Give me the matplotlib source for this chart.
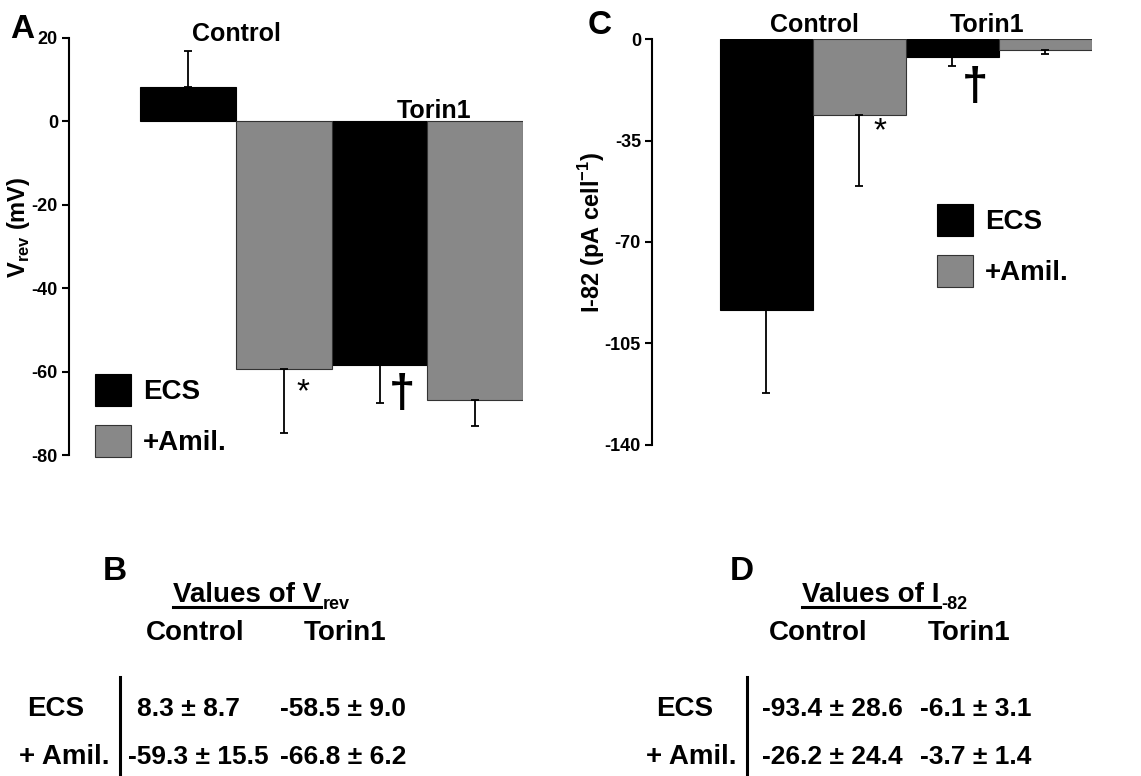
import matplotlib
matplotlib.use("Agg")
import matplotlib.pyplot as plt
from matplotlib.lines import Line2D
import numpy as np

plt.rcParams['font.family'] = ['Liberation Sans', 'DejaVu Sans']
plt.rcParams['font.weight'] = 'bold'
plt.rcParams['axes.unicode_minus'] = False
plt.rcParams['mathtext.fontset'] = 'custom'
plt.rcParams['mathtext.rm'] = 'Liberation Sans:bold'

groups = ['Control', 'Torin1']
conditions = ['ECS', '+Amil.']
row_names = ['ECS', '+ Amil.']

vrev_ecs = [8.3, -58.5]
vrev_ecs_err = [8.7, 9.0]
vrev_amil = [-59.3, -66.8]
vrev_amil_err = [15.5, 6.2]

i82_ecs = [-93.4, -6.1]
i82_ecs_err = [28.6, 3.1]
i82_amil = [-26.2, -3.7]
i82_amil_err = [24.4, 1.4]

vrev_ticks = [20, 0, -20, -40, -60, -80]
i82_ticks = [0, -35, -70, -105, -140]

BLACK = '#000000'
GREY = '#888888'

W, H = 1141, 776
fig = plt.figure(figsize=(W / 100, H / 100), dpi=100)


def fx(x):
    return x / W


def fy(y):
    return 1 - y / H


def one_sided(vals, errs):
    lo = [e if v < 0 else 0 for v, e in zip(vals, errs)]
    hi = [e if v >= 0 else 0 for v, e in zip(vals, errs)]
    return [lo, hi]


def bar_panel(ax, ecs, ecs_err, amil, amil_err, ylim, ticks):
    x_ecs = np.array([0, 2])
    x_amil = np.array([1, 3])
    ax.bar(x_ecs, ecs, width=1.0, color=BLACK, edgecolor=BLACK, linewidth=0.8, label=conditions[0])
    ax.bar(x_amil, amil, width=1.0, color=GREY, edgecolor='#333333', linewidth=0.8, label=conditions[1])
    ax.errorbar(x_ecs, ecs, yerr=one_sided(ecs, ecs_err), fmt='none', ecolor='black',
                elinewidth=1.3, capsize=3, capthick=1.3)
    ax.errorbar(x_amil, amil, yerr=one_sided(amil, amil_err), fmt='none', ecolor='black',
                elinewidth=1.3, capsize=3, capthick=1.3)
    ax.set_ylim(*ylim)
    ax.set_yticks(ticks)
    ax.set_yticklabels([str(t) for t in ticks])
    for s in ['top', 'right', 'bottom']:
        ax.spines[s].set_visible(False)
    ax.spines['left'].set_linewidth(1.5)
    ax.set_xticks([])
    ax.tick_params(axis='y', direction='out', length=5, width=1.5, pad=3, labelsize=13)
    for lab in ax.get_yticklabels():
        lab.set_fontweight('bold')


# ---- panel A ----
axA = fig.add_axes([fx(69), fy(455), (523 - 69) / W, (455 - 38) / H])
bar_panel(axA, vrev_ecs, vrev_ecs_err, vrev_amil, vrev_amil_err, (-80, 20), vrev_ticks)
axA.set_xlim(-1.246, 3.5)
axA.text(0.5, 20.9, groups[0], ha='center', va='center', fontsize=18, clip_on=False)
axA.text(2.57, 2.6, groups[1], ha='center', va='center', fontsize=18, clip_on=False)
axA.text(1.2, -65, '*', ha='center', va='center', fontsize=24, fontweight='normal')
axA.text(2.23, -65.5, '\u2020', ha='center', va='center', fontsize=34, fontweight='bold')
axA.legend(loc='upper left', bbox_to_anchor=(fx(95), fy(374)), bbox_transform=fig.transFigure,
           frameon=False, fontsize=20, handlelength=1.3, handleheight=1.4,
           handletextpad=0.43, labelspacing=0.68, borderpad=0, borderaxespad=0)
fig.text(fx(10), fy(30), 'A', fontsize=24, ha='left', va='center')
fig.text(fx(19), fy(227), r'V$_{\mathrm{rev}}$ (mV)', rotation=90, ha='center', va='center', fontsize=17)

# ---- panel C ----
axC = fig.add_axes([fx(652), fy(445), (1092 - 652) / W, (445 - 39) / H])
bar_panel(axC, i82_ecs, i82_ecs_err, i82_amil, i82_amil_err, (-140, 0), i82_ticks)
axC.set_xlim(-1.231, 3.5)
axC.text(0.52, 4.8, groups[0], ha='center', va='center', fontsize=18, clip_on=False)
axC.text(2.37, 4.8, groups[1], ha='center', va='center', fontsize=18, clip_on=False)
axC.text(1.22, -32, '*', ha='center', va='center', fontsize=24, fontweight='normal')
axC.text(2.24, -17, '\u2020', ha='center', va='center', fontsize=34, fontweight='bold')
axC.legend(loc='upper left', bbox_to_anchor=(fx(937), fy(204)), bbox_transform=fig.transFigure,
           frameon=False, fontsize=20, handlelength=1.3, handleheight=1.4,
           handletextpad=0.43, labelspacing=0.68, borderpad=0, borderaxespad=0)
fig.text(fx(588), fy(25), 'C', fontsize=24, ha='left', va='center')
fig.text(fx(592), fy(232), r'I-82 (pA cell$^{\mathrm{-1}}$)', rotation=90, ha='center', va='center', fontsize=17)


# ---- tables B and D ----
def table(letter, lx, title, sub, tx, col_cx, row_cx, vline_x, val_x, ecs, ecs_err, amil, amil_err):
    fig.text(fx(lx), fy(572), letter, fontsize=24, ha='left', va='center')
    t = fig.text(fx(tx), fy(602), title, fontsize=20, ha='left', va='baseline')
    fig.canvas.draw()
    bb = t.get_window_extent()
    x1 = bb.x1 / W
    fig.add_artist(Line2D([fx(tx), x1], [fy(606.5), fy(606.5)], color='black', lw=2.2,
                          transform=fig.transFigure))
    fig.text(x1 + 2 / W, fy(609), sub, fontsize=13, ha='left', va='baseline')
    for g, cx in zip(groups, col_cx):
        fig.text(fx(cx), fy(633), g, fontsize=20, ha='center', va='center')
    for r, cx, yy in zip(row_names, row_cx, [709, 757]):
        fig.text(fx(cx), fy(yy), r, fontsize=20, ha='center', va='center')
    fig.add_artist(Line2D([fx(vline_x), fx(vline_x)], [fy(677), fy(778)], color='black', lw=2.2,
                          transform=fig.transFigure))
    rows = [(ecs, ecs_err), (amil, amil_err)]
    for (vals, errs), yy, xs in zip(rows, [709, 757], val_x):
        for v, e, x in zip(vals, errs, xs):
            fig.text(fx(x), fy(yy), f'{v:.1f} \u00b1 {e:.1f}', fontsize=19, ha='left', va='center')


table('B', 103, 'Values of V', 'rev', 173, [195, 345], [56, 64], 120,
      [[137, 280], [128, 280]], vrev_ecs, vrev_ecs_err, vrev_amil, vrev_amil_err)
table('D', 730, 'Values of I', '-82', 802, [818, 969], [685, 691], 747,
      [[762, 920], [762, 920]], i82_ecs, i82_ecs_err, i82_amil, i82_amil_err)

fig.savefig('out.png', dpi=100)
